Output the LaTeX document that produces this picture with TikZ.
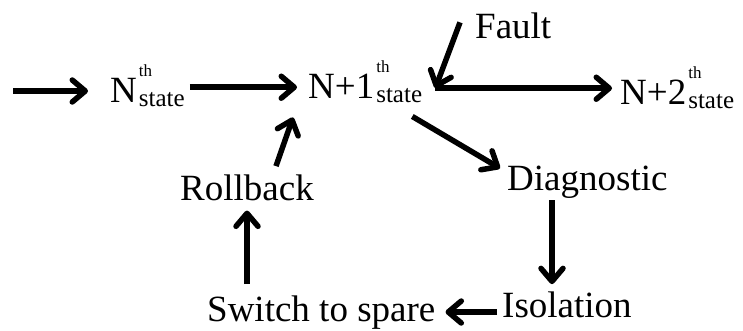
\documentclass[tikz,border=0pt]{standalone}
\usepackage{fontspec}
\setmainfont{Liberation Serif}
\usetikzlibrary{arrows.meta,calc}

\newcommand{\thfont}{\fontsize{17}{17}\selectfont}
\newcommand{\stfont}{\fontsize{25}{25}\selectfont}
\newcommand{\stlabel}[1]{#1\rlap{\kern2pt\raisebox{26pt}{\thfont th}}\raisebox{-4pt}{\kern2pt\stfont state}}

\tikzset{
  stepnode/.style={
    inner sep=2pt, anchor=base west,
    font=\fontsize{37}{40}\selectfont
  },
  flowarrow/.style={
    -{Straight Barb[length=13pt,width=22pt,round]}, line width=5.5pt, color=#1
  },
  flowarrow/.default=black,
}

\begin{document}
\begin{tikzpicture}[x=1pt, y=-1pt]
  \useasboundingbox (0,0) rectangle (743,330);

  % ── state row ──
  \node[stepnode] (nth) at (108,102) {\stlabel{N}};
  \node[stepnode] (np1) at (306,98) {\stlabel{N+1}};
  \node[stepnode] (np2) at (618,104) {\stlabel{N+2}};
  \node[stepnode] (fault) at (473,38) {Fault};

  % ── recovery loop ──
  \node[stepnode] (roll) at (178,200) {Rollback};
  \node[stepnode] (diag) at (505,190) {Diagnostic};
  \node[stepnode] (isol) at (500,317) {Isolation};
  \node[stepnode] (spare) at (205,321) {Switch to spare};

  \coordinate (entry) at (13,91);

  \draw[flowarrow, shorten >=20pt] (entry) -- (entry -| nth.west);
  \draw[flowarrow] ($(nth.east)+(3,2)$) -- ($(nth.east -| np1.west)+(-9,2)$);
  \draw[flowarrow] ($(fault.west)+(-13,-3)$) -- ($(np1.east)+(11,7)$);
  \draw[flowarrow] ($(np1.east)+(11,7)$) -- ($(np1.east -| np2.west)+(-6,7)$);
  \draw[flowarrow] ($(roll.north)+(29,-6)$) -- ($(np1.south west)+(-13,13)$);
  \draw[flowarrow] ($(np1.south east)+(-12,12)$) -- ($(diag.north west)+(-5,5)$);
  \draw[flowarrow] ($(diag.south west)+(47,0)$) -- ($(diag.south west |- isol.north)+(47,-5)$);
  \draw[flowarrow] ($(isol.base west)+(-3,-5)$) -- ($(spare.east |- isol.base west)+(8,-5)$);
  \draw[flowarrow] ($(spare.north west)+(42,-9)$) -- ($(roll.south west)+(69,8)$);
\end{tikzpicture}
\end{document}
